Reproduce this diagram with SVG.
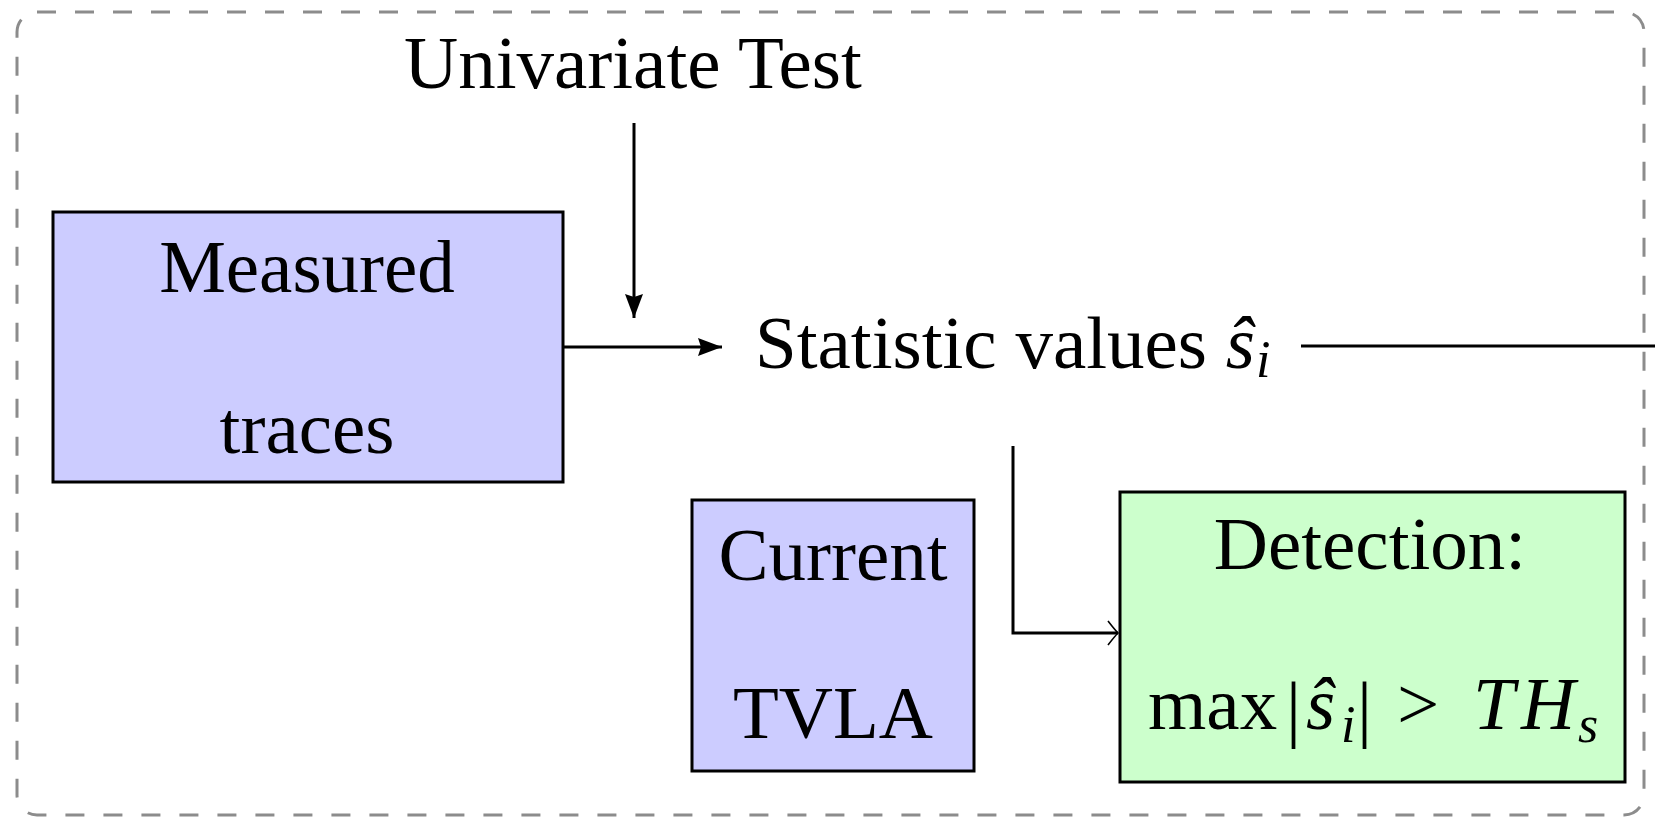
<svg xmlns="http://www.w3.org/2000/svg" width="1655" height="819" viewBox="0 0 1655 819">
  <style>
    text { font-family: "Liberation Serif", "Times New Roman", serif; font-size: 75px; fill: #000; }
    .mid { text-anchor: middle; }
    .it { font-style: italic; }
    .sub { font-size: 52px; font-style: italic; }
    .blue { fill: #ccccff; stroke: #000; stroke-width: 3; }
    .green { fill: #ccffcc; stroke: #000; stroke-width: 3; }
    .wire { fill: none; stroke: #000; stroke-width: 3; }
    .frame { fill: none; stroke: #8c8c8c; stroke-width: 3; stroke-dasharray: 19 19; }
  </style>
  <defs>
    <marker id="head" markerUnits="userSpaceOnUse" markerWidth="26" markerHeight="20" refX="24" refY="9" orient="auto">
      <path d="M0,0 L24,9 L0,18 L3,9 z" fill="#000"/>
    </marker>
    <marker id="open" markerUnits="userSpaceOnUse" markerWidth="14" markerHeight="28" refX="12" refY="13" orient="auto">
      <path d="M2,1 Q9,10 12,13 Q9,16 2,25" fill="none" stroke="#000" stroke-width="1.6"/>
    </marker>
  </defs>

  <rect class="frame" x="17" y="12" width="1627" height="803" rx="20" ry="20"/>

  <g id="univariate-test">
    <text x="404" y="88">Univariate Test</text>
  </g>

  <g id="measured-traces">
    <rect class="blue" x="53" y="212" width="510" height="270"/>
    <text class="mid" x="307" y="292">Measured</text>
    <text class="mid" x="307" y="453">traces</text>
  </g>

  <g id="statistic-values">
    <text x="755" y="368">Statistic values <tspan class="it">ŝ</tspan></text>
    <text class="sub" x="1256" y="377">i</text>
  </g>

  <g id="current-tvla">
    <rect class="blue" x="692" y="500" width="282" height="271"/>
    <text class="mid" x="833" y="580">Current</text>
    <text class="mid" x="833" y="738">TVLA</text>
  </g>

  <g id="detection">
    <rect class="green" x="1120" y="492" width="505" height="290"/>
    <text class="mid" x="1370" y="569">Detection:</text>
    <text x="1148" y="729">max</text>
    <text x="1286" y="733" font-size="80">|</text>
    <text class="it" x="1306" y="729">ŝ</text>
    <text class="sub" x="1341" y="742">i</text>
    <text x="1357" y="733" font-size="80">|</text>
    <text x="1397" y="729">&gt;</text>
    <text class="it" x="1473" y="729">T</text>
    <text class="it" x="1521" y="729">H</text>
    <text class="sub" x="1578" y="742">s</text>
  </g>

  <g id="connectors">
    <path class="wire" stroke-width="2.6" d="M634,123 V318" marker-end="url(#head)"/>
    <path class="wire" d="M563,347 H722" marker-end="url(#head)"/>
    <path class="wire" d="M1301,346 H1655"/>
    <path class="wire" d="M1013,446 V633 H1118" marker-end="url(#open)"/>
  </g>
</svg>
